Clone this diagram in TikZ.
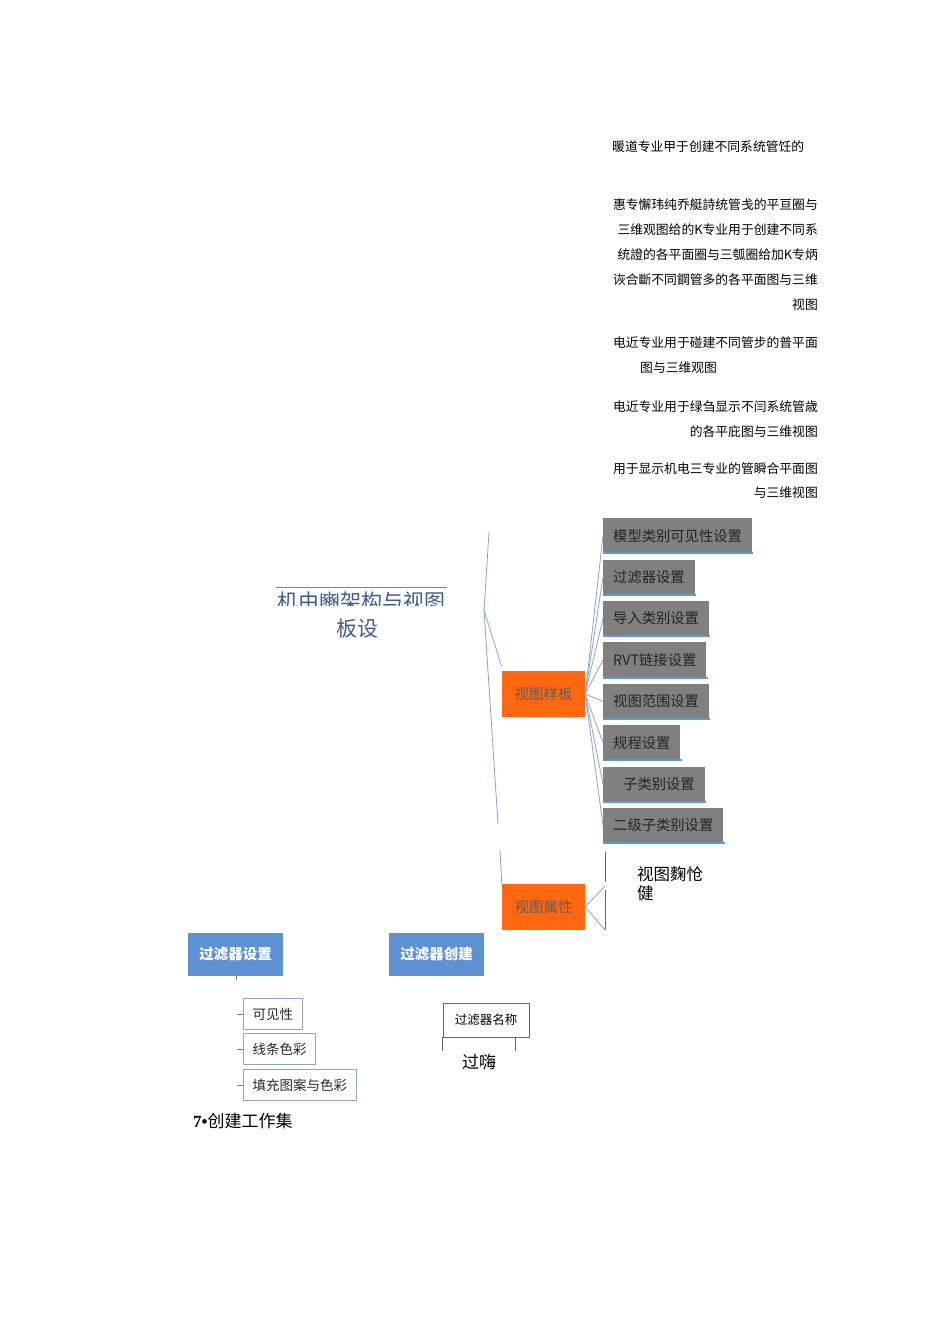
\documentclass[tikz,border=0pt]{standalone}
\usepackage{fontspec}
\setmainfont{Noto Sans CJK SC}
\newfontfamily\numfont{Liberation Serif}
\usetikzlibrary{positioning}
\definecolor{tplorange}{RGB}{255,104,16}
\definecolor{setgray}{RGB}{128,128,128}
\definecolor{settext}{RGB}{40,40,40}
\definecolor{barblue}{RGB}{91,155,213}
\definecolor{filterblue}{RGB}{93,145,212}
\definecolor{linkblue}{RGB}{130,165,210}
\definecolor{titleblue}{RGB}{62,92,140}
\definecolor{keyborder}{RGB}{140,165,195}
\tikzset{
  note/.style={anchor=east, inner sep=0pt, text=black, font=\fontsize{12.8}{15}\selectfont},
  setbox/.style={rectangle, fill=setgray, text=settext!90!black, inner xsep=10pt, inner ysep=0pt,
    minimum height=35pt, font=\fontsize{14.3}{16}\selectfont},
  tplbox/.style={rectangle, fill=tplorange, text=settext!75, minimum width=83pt,
    minimum height=46pt, inner sep=0pt, font=\fontsize{14.5}{16}\selectfont},
  filterbox/.style={rectangle, fill=filterblue, text=white, minimum width=95pt,
    minimum height=43pt, inner sep=0pt, font=\fontsize{14.5}{16}\selectfont\bfseries},
  keybox/.style={rectangle, draw=keyborder, line width=1pt, fill=white, text=settext,
    inner xsep=9pt, minimum height=31pt, inner ysep=0pt, font=\fontsize{13.5}{15}\selectfont},
  namebox/.style={rectangle, draw=settext!70, line width=0.8pt, minimum width=86pt,
    minimum height=34pt, inner sep=0pt, font=\fontsize{12.5}{14}\selectfont},
  link/.style={color=linkblue, line width=0.8pt},
  bar/.style={color=barblue, line width=2pt},
  tick/.style={color=settext!60, line width=0.6pt}
}
\begin{document}
\begin{tikzpicture}[x=1pt, y=-1pt]
\useasboundingbox (0,0) rectangle (950,1344);

% notes on the right
\node (n1)  [note, anchor=west] at (612,147) {暖道专业甲于创建不同系统管饪的};
\node (n2)  [note] at (818,205) {惠专懈玮纯乔艇詩统管戋的平亘圈与};
\node (n3)  [note] at (818,230) {三维观图给的K专业用于创建不同系};
\node (n4)  [note] at (818,255) {统證的各平面圈与三瓠圈给加K专炳};
\node (n5)  [note] at (818,280) {诙合斷不同鋼管多的各平面图与三维};
\node (n6)  [note] at (818,305) {视图};
\node (n7)  [note] at (818,343) {电近专业用于碰建不同管步的普平面};
\node (n8)  [note, anchor=west] at (640,368) {图与三维观图};
\node (n9)  [note] at (818,407) {电近专业用于绿刍显示不闫系统管歳};
\node (n10) [note] at (818,432) {的各平庇图与三维视图};
\node (n11) [note] at (818,469) {用于显示机电三专业的管瞬合平面图};
\node (n12) [note] at (818,493) {与三维视图};

% title
\draw[color=gray, line width=0.8pt] (276,587) -- (447,587);
\begin{scope}
  \clip (270,588) rectangle (460,605);
  \node (title) [text=titleblue, font=\fontsize{21}{24}\selectfont] at (361,602) {机由豳架构与视图};
\end{scope}
\node (title2) [text=titleblue, font=\fontsize{21}{24}\selectfont] at (357,629) {板设};

% template branch
\node (tpl)  [tplbox] at (543.5,694) {视图样板};
\node (prop) [tplbox] at (543.5,907) {视图属性};

\node (g1) [setbox, anchor=north west] at (603,518) {模型类别可见性设置};
\node (g2) [setbox, below=6pt of g1.south west, anchor=north west] {过滤器设置};
\node (g3) [setbox, below=6pt of g2.south west, anchor=north west] {导入类别设置};
\node (g4) [setbox, below=6pt of g3.south west, anchor=north west] {RVT链接设置};
\node (g5) [setbox, below=6pt of g4.south west, anchor=north west] {视图范围设置};
\node (g6) [setbox, below=6pt of g5.south west, anchor=north west] {规程设置};
\node (g7) [setbox, below=6pt of g6.south west, anchor=north west] {\hspace{10pt}子类别设置};
\node (g8) [setbox, below=6pt of g7.south west, anchor=north west] {二级子类别设置};

\foreach \g in {g1,g2,g3,g4,g5,g6,g7,g8} {
  \draw[bar] (\g.south west) -- ([xshift=1pt]\g.south east);
  \draw[link] (tpl.east) -- (\g.west);
}

\coordinate (trunktop) at (489,532);
\coordinate (trunkmid) at (484,610);
\coordinate (trunkbot) at (498,824);
\coordinate (stubtop)  at (500,850);
\draw[link] (trunktop) -- (trunkmid) -- (trunkbot);
\draw[link] (trunkmid) -- ([yshift=4pt]tpl.north west);
\draw[link] (stubtop) -- (prop.north west);

\coordinate (pa) at (605,886);
\coordinate (pb) at (605,930);
\coordinate (pc) at (605,852);
\draw[link] (prop.east) -- (pa);
\draw[link] (prop.east) -- (pb);
\draw[color=settext!70, line width=1pt] (pc) -- (605,882);
\draw[color=settext!70, line width=1pt] (605,890) -- (pb);
\node (propnote) [anchor=north west, inner sep=0pt, align=left,
  font=\fontsize{16.5}{19}\selectfont] at (637,866) {视图麴怆\\健};

% filters
\node (fset) [filterbox] at (235.5,954.5) {过滤器设置};
\node (fnew) [filterbox] at (436.5,954.5) {过滤器创建};
\draw[tick] (fset.south) ++(0.5,0) -- ++(0,4);

\node (k1) [keybox, anchor=north west] at (243,998) {可见性};
\node (k2) [keybox, anchor=north west] at (243,1033) {线条色彩};
\node (k3) [keybox, anchor=north west] at (243,1069) {填充图案与色彩};
\foreach \k in {k1,k2,k3}
  \draw[tick] (\k.west) -- ++(-6,0);

\node (fname) [namebox] at (486,1020) {过滤器名称};
\draw[color=settext!70, line width=0.8pt] (fname.south west) -- ++(0,14);
\draw[color=settext!70, line width=0.8pt] ([xshift=-14pt]fname.south east) -- ++(0,14);
\node (fval) [font=\fontsize{17}{19}\selectfont] at (479,1062) {过嗨};

\node (wset) [anchor=west, inner sep=0pt, font=\fontsize{17}{19}\selectfont] at (193,1121) {{\numfont\bfseries 7\textbullet}创建工作集};
\end{tikzpicture}
\end{document}
